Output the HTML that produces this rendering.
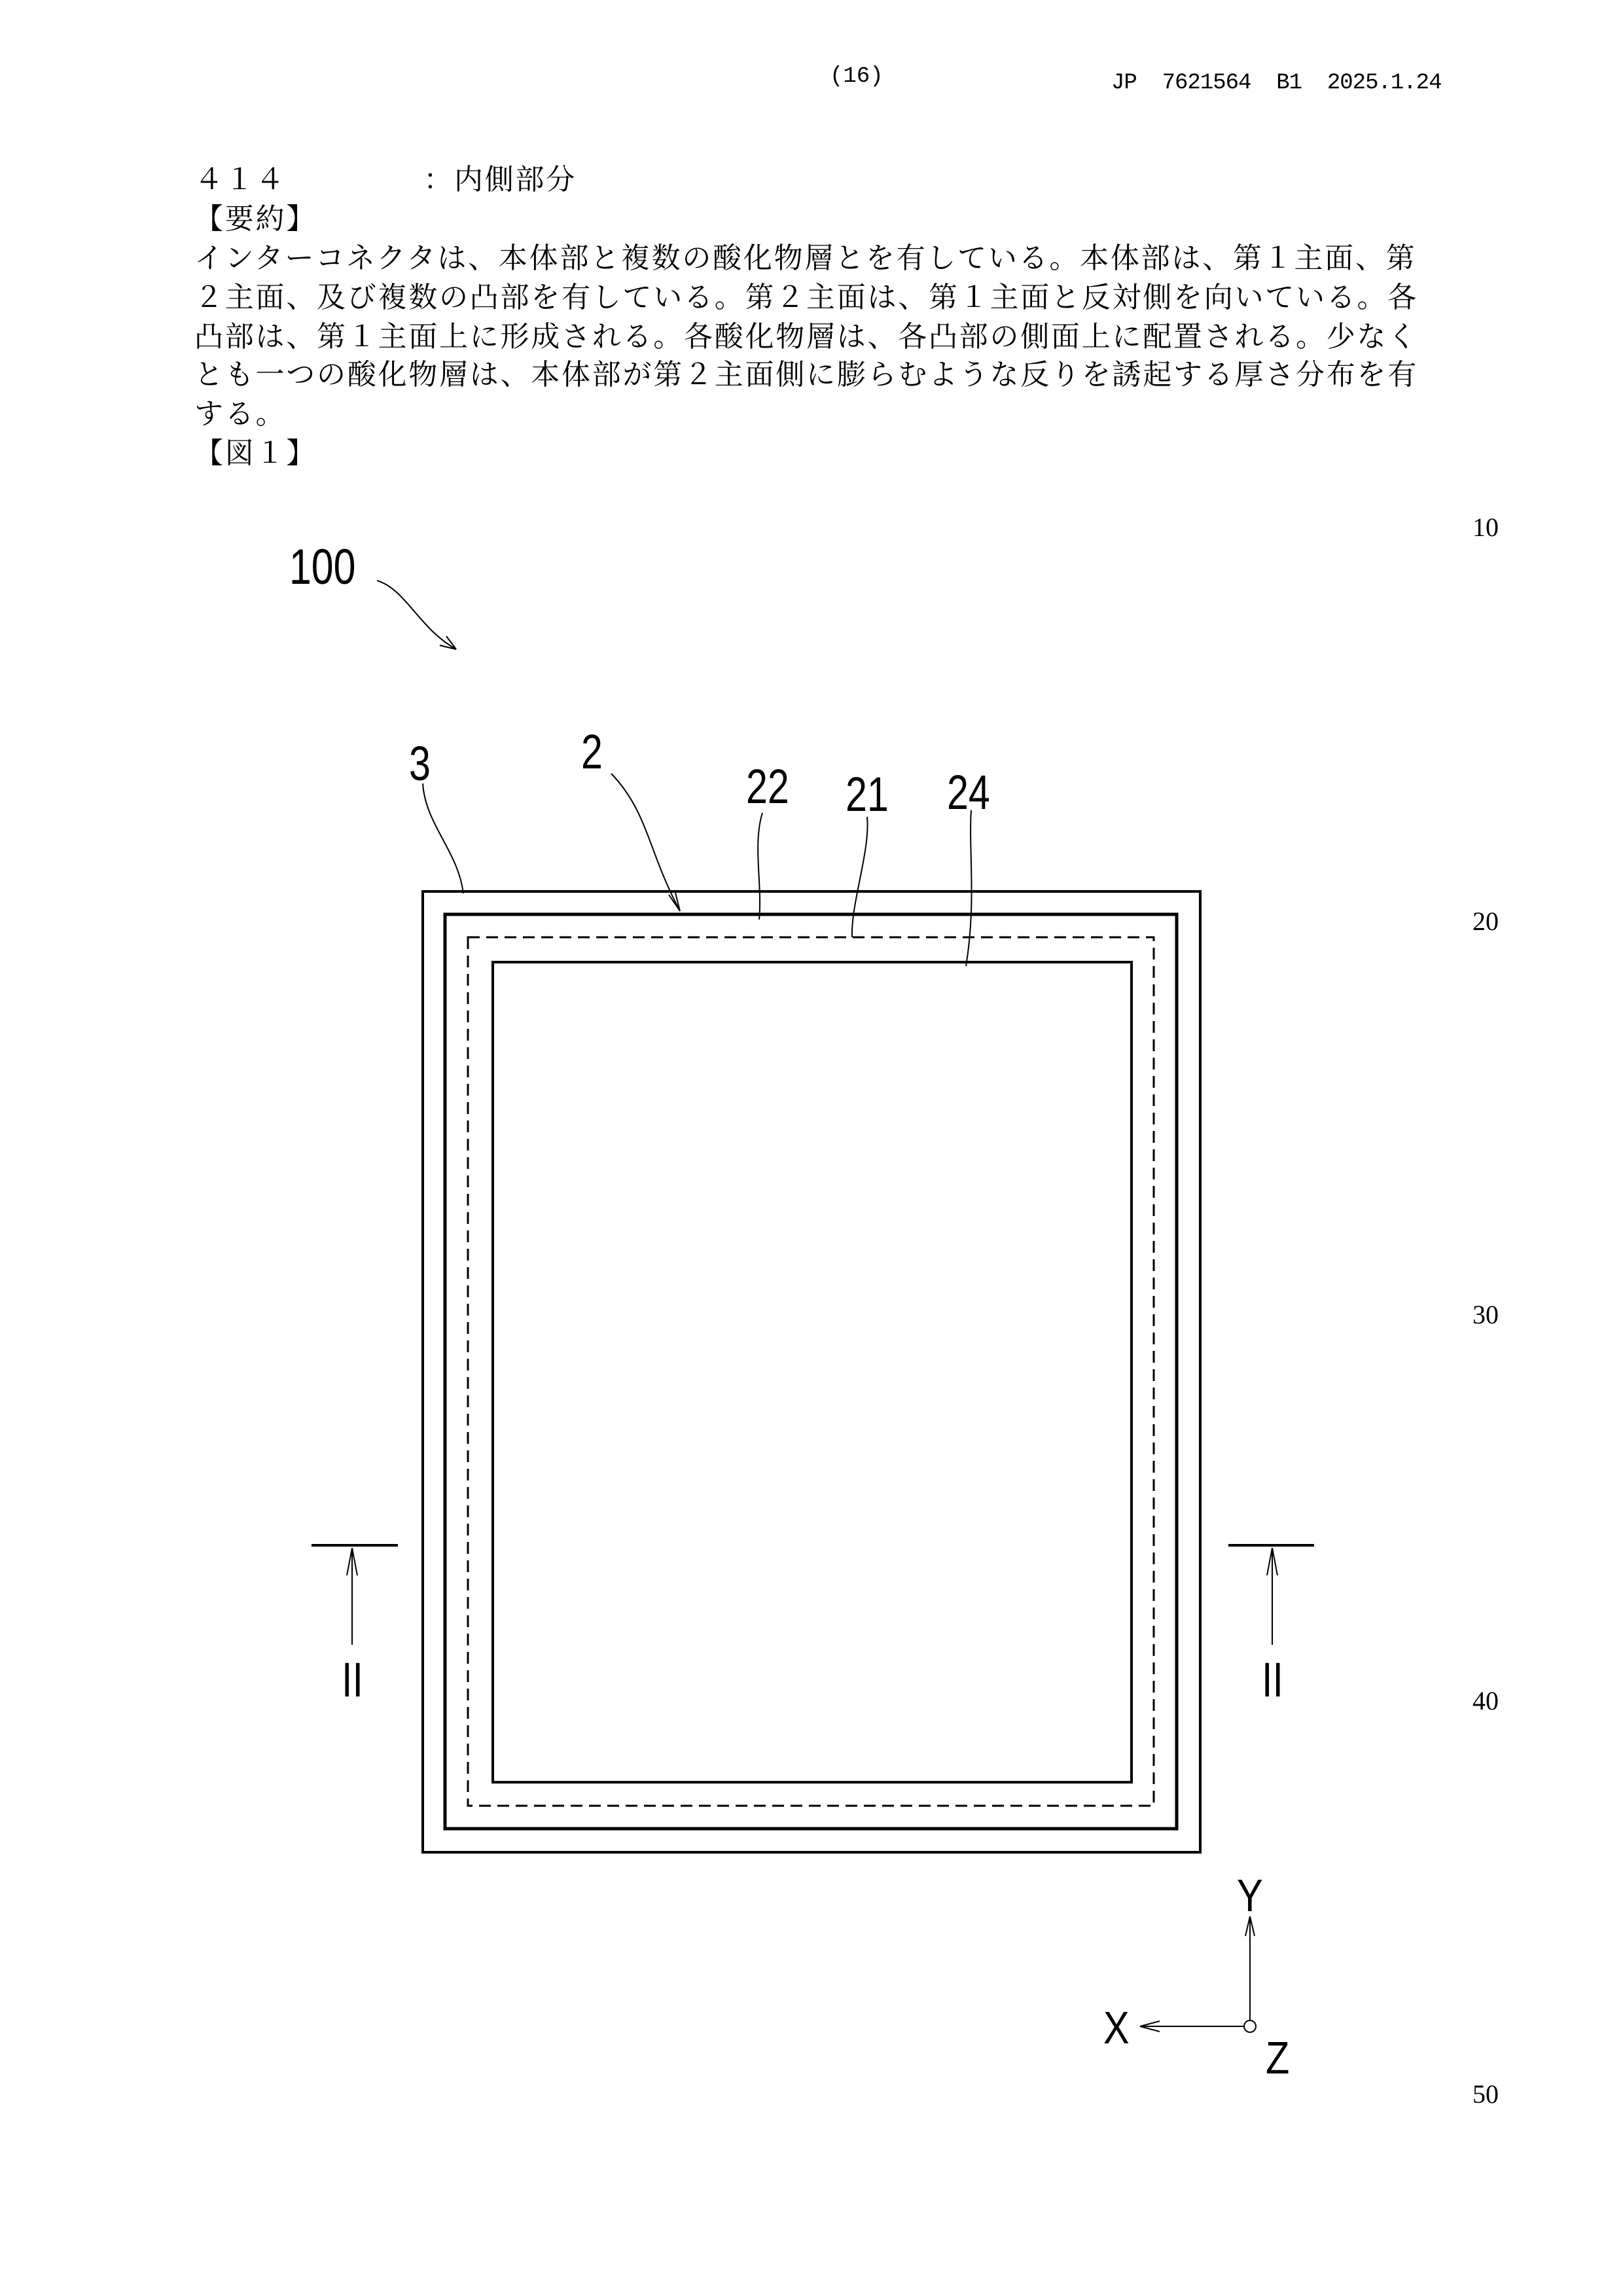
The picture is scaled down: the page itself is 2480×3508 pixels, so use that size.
<!DOCTYPE html>
<html><head><meta charset="utf-8"><style>
html,body{margin:0;padding:0;background:#fff}
body{width:2480px;height:3508px;position:relative;overflow:hidden}
.t{position:absolute;white-space:nowrap;color:#000}
.b{font-family:"Liberation Serif","Noto Serif CJK SC",serif;font-size:44px;letter-spacing:2.75px;left:297px}
.h{font-family:"Liberation Mono","Noto Sans CJK JP",monospace;font-size:34px}
.n{font-family:"Liberation Serif",serif;font-size:40px}
</style></head><body>
<div class="t h" style="left:1268px;top:98px">(16)</div>
<div class="t h" style="left:1698px;top:108px;letter-spacing:-1px">JP&nbsp;&nbsp;7621564&nbsp;&nbsp;B1&nbsp;&nbsp;2025.1.24</div>
<div class="t b" style="top:238px">４１４<span style="display:inline-block;width:210px"></span>：内側部分</div>
<div class="t b" style="top:298px">【要約】</div>
<div class="t b" style="top:358px">インターコネクタは、本体部と複数の酸化物層とを有している。本体部は、第１主面、第</div>
<div class="t b" style="top:418px">２主面、及び複数の凸部を有している。第２主面は、第１主面と反対側を向いている。各</div>
<div class="t b" style="top:478px">凸部は、第１主面上に形成される。各酸化物層は、各凸部の側面上に配置される。少なく</div>
<div class="t b" style="top:536px">とも一つの酸化物層は、本体部が第２主面側に膨らむような反りを誘起する厚さ分布を有</div>
<div class="t b" style="top:596px">する。</div>
<div class="t b" style="top:656px">【図１】</div>
<div class="t n" style="left:2250px;top:782px">10</div>
<div class="t n" style="left:2250px;top:1384px">20</div>
<div class="t n" style="left:2250px;top:1985px">30</div>
<div class="t n" style="left:2250px;top:2575px">40</div>
<div class="t n" style="left:2250px;top:3176px">50</div>
<svg width="2480" height="3508" style="position:absolute;left:0;top:0" xmlns="http://www.w3.org/2000/svg">
<g fill="none" stroke="#000">
<rect x="646" y="1362" width="1188" height="1468" stroke-width="4"/>
<rect x="680" y="1397" width="1118" height="1397" stroke-width="5"/>
<rect x="715" y="1432" width="1048" height="1327" stroke-width="3" stroke-dasharray="18,10"/>
<rect x="753" y="1470" width="976" height="1253" stroke-width="4"/>
<g stroke-width="2">
<path d="M576 887 C620 900 640 960 697 992"/>
<path d="M697 992 L672 986 M697 992 L682 972"/>
<path d="M646 1197 C650 1260 700 1300 708 1365"/>
<path d="M934 1182 C990 1240 990 1300 1039 1392"/>
<path d="M1039 1392 L1022 1367 M1039 1392 L1032 1364"/>
<path d="M1165 1242 C1150 1290 1165 1350 1160 1405"/>
<path d="M1325 1248 C1330 1300 1300 1380 1302 1432"/>
<path d="M1484 1238 C1480 1300 1492 1380 1476 1476"/>
<path d="M538 2365 V2513 M538 2365 L530 2407 M538 2365 L546 2407"/>
<path d="M1944 2365 V2513 M1944 2365 L1936 2407 M1944 2365 L1952 2407"/>
<path d="M1910 3086 V2928 M1910 2928 L1903 2958 M1910 2928 L1917 2958"/>
<path d="M1901 3096 H1742 M1742 3096 L1772 3088 M1742 3096 L1772 3104"/>
</g>
<path d="M476 2361 H608 M1877 2361 H2008" stroke-width="4"/>
<circle cx="1910" cy="3096" r="9" stroke-width="2"/>
</g>
<g font-family="Liberation Sans,sans-serif" fill="#000">
<text font-size="76" transform="translate(442 892) scale(0.8 1)">100</text>
<text font-size="74" transform="translate(625 1192) scale(0.8 1)">3</text>
<text font-size="74" transform="translate(888 1174) scale(0.8 1)">2</text>
<text font-size="74" transform="translate(1140 1227) scale(0.8 1)">22</text>
<text font-size="74" transform="translate(1292 1239) scale(0.8 1)">21</text>
<text font-size="74" transform="translate(1447 1236) scale(0.8 1)">24</text>
<text font-size="74" transform="translate(522 2592) scale(0.8 1)">II</text>
<text font-size="74" transform="translate(1928 2592) scale(0.8 1)">II</text>
<text font-size="70" transform="translate(1890 2920) scale(0.85 1)">Y</text>
<text font-size="70" transform="translate(1686 3122) scale(0.85 1)">X</text>
<text font-size="70" transform="translate(1934 3168) scale(0.85 1)">Z</text>
</g>
</svg>
</body></html>
